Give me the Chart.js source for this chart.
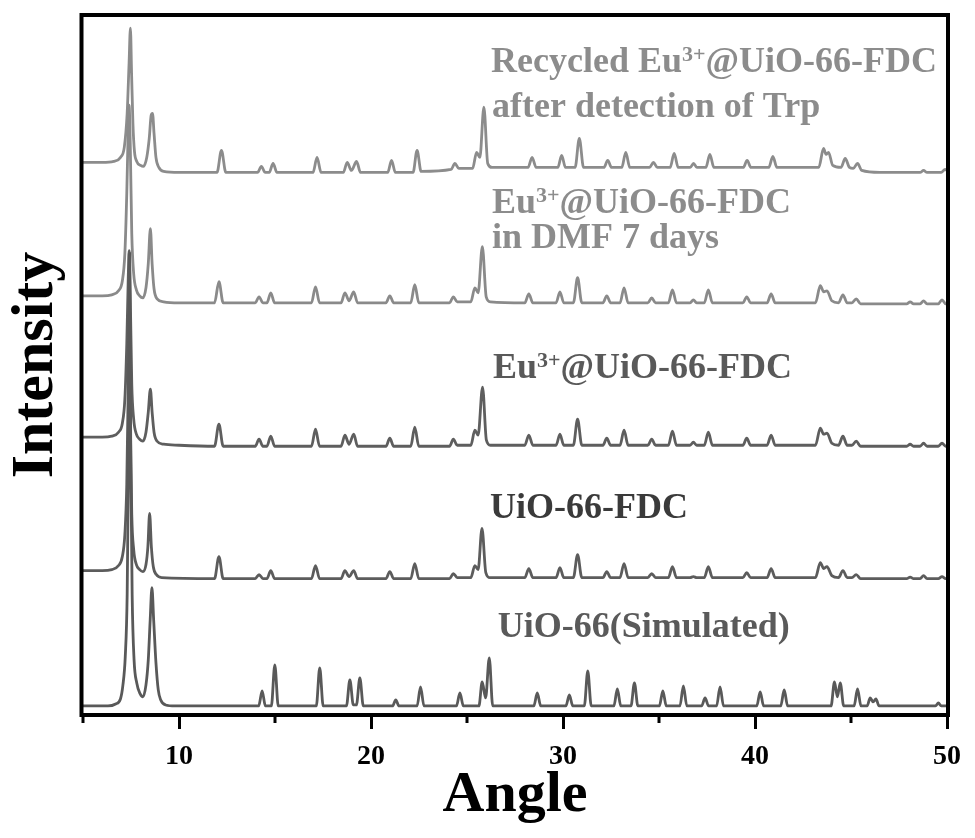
<!DOCTYPE html>
<html>
<head>
<meta charset="utf-8">
<script src="https://cdn.jsdelivr.net/npm/chart.js@4.4.1/dist/chart.umd.min.js"></script>
<style>
    html, body { margin: 0; padding: 0; background: #fff; }
    canvas { display: block; }
</style>
</head>
<body>
<canvas id="xrd-chart" width="975" height="838"></canvas>
<script>
// Trục X (góc 2θ)
const xMin = 5;
const xMax = 50;
const xTickValues = [10, 20, 30, 40, 50];
const xMinorTicks = [5, 15, 25, 35, 45];

// UiO-66 (Simulated)
const simAngle = [5, 6.3, 6.7, 6.95, 7.08, 7.2, 7.3, 7.37, 7.43, 7.49, 7.56, 7.66, 7.8, 7.98, 8.12, 8.28, 8.4, 8.5, 8.59, 8.68, 8.8, 8.92, 9.05, 9.3, 9.8,
    14.15, 14.33, 14.5, 14.81, 14.99, 15.17, 17.15, 17.33, 17.51, 18.72, 18.9, 19.08, 19.24, 19.42, 19.6,
    21.12, 21.29, 21.46, 22.4, 22.58, 22.76, 24.45, 24.63, 24.81, 25.62, 25.79, 25.97, 26.16, 26.34,
    28.48, 28.66, 28.84, 30.15, 30.33, 30.51, 31.11, 31.29, 31.47, 32.65, 32.83, 33.01, 33.54, 33.72, 33.9,
    35.02, 35.2, 35.38, 36.09, 36.27, 36.45, 37.22, 37.4, 37.58, 38.0, 38.18, 38.36, 40.09, 40.27, 40.45,
    41.34, 41.52, 41.7, 43.96, 44.14, 44.29, 44.44, 44.62, 45.16, 45.34, 45.52, 45.84, 46.0, 46.15, 46.3, 46.46,
    49.4, 49.55, 49.7, 50];
const simInt = [9, 9, 11, 16, 30, 58, 120, 250, 460, 250, 120, 55, 32, 21, 18, 30, 55, 95, 127, 95, 52, 25, 15, 10, 9,
    9, 24, 9, 9, 50, 9, 9, 47, 9, 9, 35, 10, 10, 37, 9,
    9, 15, 9, 9, 28, 9, 9, 22, 9, 9, 33, 17, 57, 9,
    9, 22, 9, 9, 20, 9, 9, 44, 9, 9, 26, 9, 9, 32, 9,
    9, 24, 9, 9, 29, 9, 9, 17, 9, 9, 28, 9, 9, 23, 9,
    9, 25, 9, 9, 33, 18, 32, 9, 9, 26, 9, 9, 17, 13, 16, 9,
    9, 12, 9, 9];

// UiO-66-FDC
const fdcAngle = [5, 6.0, 6.5, 6.85, 7.05, 7.18, 7.28, 7.35, 7.4, 7.46, 7.54, 7.64, 7.78, 7.95, 8.12, 8.28, 8.38, 8.47, 8.56, 8.66, 8.82, 9.1,
    11.85, 12.08, 12.3, 13.97, 14.17, 14.37, 14.58, 14.78, 14.98, 16.9, 17.11, 17.32, 18.44, 18.64, 18.86, 19.1, 19.3,
    20.78, 20.98, 21.18, 22.07, 22.28, 22.49, 24.09, 24.29, 24.49, 25.2, 25.41, 25.58, 25.78, 25.98, 26.2,
    28.01, 28.22, 28.43, 29.64, 29.84, 30.04, 30.54, 30.76, 30.98, 32.08, 32.28, 32.48, 32.97, 33.18, 33.39,
    34.42, 34.62, 34.82, 35.49, 35.7, 35.91, 36.62, 36.79, 36.96, 37.36, 37.57, 37.78, 39.37, 39.57, 39.77,
    40.63, 40.84, 41.05, 43.15, 43.4, 43.58, 43.75, 44.0, 44.35, 44.58, 44.8, 45.05, 45.27, 45.5,
    47.9, 48.08, 48.26, 48.6, 48.78, 48.96, 49.55, 49.74, 49.93, 50];
const fdcInt = [144, 144, 145, 149, 158, 180, 230, 320, 400, 300, 200, 165, 150, 145, 143, 150, 168, 201, 168, 148, 140, 137,
    136, 158, 136, 136, 140, 136, 136, 144, 136, 136, 149, 136, 136, 144, 138, 144, 136,
    136, 143, 136, 136, 151, 136, 136, 141, 137, 137, 149, 145, 186, 142, 137,
    137, 146, 137, 137, 147, 137, 137, 160, 137, 137, 143, 137, 137, 151, 137,
    137, 141, 137, 137, 148, 137, 137, 138, 137, 137, 148, 137, 137, 142, 137,
    137, 146, 137, 137, 152, 146, 148, 139, 137, 144, 137, 137, 140, 136,
    136, 137.5, 136, 136, 139, 136, 136, 138, 136, 136];

// Eu3+@UiO-66-FDC
const euAngle = [5, 6.0, 6.5, 6.85, 7.05, 7.18, 7.28, 7.35, 7.4, 7.46, 7.54, 7.64, 7.78, 7.95, 8.12, 8.28, 8.4, 8.51, 8.6, 8.7, 8.86, 9.2, 10.0,
    11.85, 12.08, 12.3, 13.97, 14.17, 14.37, 14.58, 14.78, 14.98, 16.9, 17.11, 17.32, 18.44, 18.64, 18.86, 19.1, 19.3,
    20.78, 20.98, 21.18, 22.07, 22.28, 22.49, 24.09, 24.29, 24.49, 25.2, 25.41, 25.58, 25.81, 26.01, 26.22,
    28.01, 28.22, 28.43, 29.64, 29.84, 30.04, 30.54, 30.76, 30.98, 32.08, 32.28, 32.48, 32.97, 33.18, 33.39,
    34.42, 34.62, 34.82, 35.49, 35.7, 35.91, 36.62, 36.79, 36.96, 37.36, 37.57, 37.78, 39.37, 39.57, 39.77,
    40.63, 40.84, 41.05, 43.15, 43.4, 43.58, 43.75, 44.0, 44.35, 44.58, 44.8, 45.05, 45.27, 45.5,
    47.9, 48.08, 48.26, 48.6, 48.78, 48.96, 49.55, 49.74, 49.93, 50];
const euInt = [277, 277, 278, 282, 291, 315, 370, 430, 463, 420, 330, 295, 280, 275, 273, 282, 302, 325, 302, 282, 273, 270, 269,
    268, 290, 268, 268, 275, 268, 268, 278, 268, 268, 285, 268, 268, 279, 270, 280, 268,
    268, 276, 268, 268, 287, 268, 268, 275, 269, 269, 284, 279, 327, 274, 269,
    269, 279, 269, 269, 280, 269, 269, 295, 269, 269, 276, 269, 269, 284, 269,
    269, 275, 269, 269, 283, 269, 269, 272, 269, 269, 282, 269, 269, 276, 269,
    269, 279, 269, 269, 286, 280, 281, 271, 269, 278, 269, 269, 273, 268,
    268, 270, 268, 268, 271, 268, 268, 271, 268, 268];

// Eu3+@UiO-66-FDC in DMF 7 days
const dmfAngle = [5, 6.0, 6.5, 6.85, 7.05, 7.18, 7.28, 7.35, 7.4, 7.46, 7.54, 7.64, 7.78, 7.95, 8.12, 8.28, 8.4, 8.51, 8.6, 8.7, 8.86, 9.2, 10.0,
    11.85, 12.08, 12.3, 13.97, 14.17, 14.37, 14.58, 14.78, 14.98, 16.9, 17.11, 17.32, 18.44, 18.64, 18.86, 19.1, 19.3,
    20.78, 20.98, 21.18, 22.07, 22.28, 22.49, 24.09, 24.29, 24.49, 25.2, 25.41, 25.58, 25.8, 26.0, 26.22,
    28.01, 28.22, 28.43, 29.64, 29.84, 30.04, 30.54, 30.76, 30.98, 32.08, 32.28, 32.48, 32.97, 33.18, 33.39,
    34.42, 34.62, 34.82, 35.49, 35.7, 35.91, 36.62, 36.79, 36.96, 37.36, 37.57, 37.78, 39.37, 39.57, 39.77,
    40.63, 40.84, 41.05, 43.15, 43.4, 43.58, 43.75, 44.0, 44.35, 44.58, 44.8, 45.05, 45.27, 45.5,
    47.9, 48.08, 48.26, 48.6, 48.78, 48.96, 49.55, 49.74, 49.93, 50];
const dmfInt = [418, 418, 419, 423, 433, 460, 520, 580, 608, 570, 480, 440, 424, 418, 416, 426, 450, 485, 450, 425, 415, 412, 411,
    411, 432, 411, 411, 417, 411, 411, 421, 411, 411, 427, 411, 411, 421, 413, 422, 411,
    411, 418, 411, 411, 429, 411, 411, 417, 412, 412, 426, 421, 467, 417, 412,
    411, 420, 411, 411, 422, 411, 411, 436, 411, 411, 418, 411, 411, 426, 411,
    411, 416, 411, 411, 424, 411, 411, 414, 411, 411, 424, 411, 411, 417, 411,
    411, 420, 411, 411, 428, 422, 423, 413, 411, 419, 411, 411, 415, 410,
    410, 412, 410, 410, 413, 410, 410, 414, 410, 410];

// Recycled Eu3+@UiO-66-FDC after detection of Trp
const recAngle = [5, 6.0, 6.6, 6.95, 7.15, 7.3, 7.4, 7.47, 7.53, 7.6, 7.68, 7.8, 8.0, 8.15, 8.32, 8.45, 8.55, 8.62, 8.7, 8.8, 8.95, 9.2, 10.0,
    11.98, 12.21, 12.44, 14.09, 14.29, 14.49, 14.7, 14.9, 15.1, 16.98, 17.19, 17.4, 18.56, 18.76, 18.98, 19.25, 19.45,
    20.87, 21.07, 21.27, 22.19, 22.4, 22.61, 24.17, 24.37, 24.57, 25.29, 25.5, 25.67, 25.88, 26.08, 26.3,
    28.18, 28.39, 28.6, 29.73, 29.93, 30.13, 30.63, 30.85, 31.07, 32.13, 32.33, 32.53, 33.06, 33.27, 33.48,
    34.51, 34.71, 34.91, 35.58, 35.79, 36.0, 36.63, 36.8, 36.97, 37.44, 37.65, 37.86, 39.39, 39.59, 39.79,
    40.72, 40.93, 41.14, 43.32, 43.57, 43.7, 43.83, 44.05, 44.48, 44.7, 44.92, 45.12, 45.34, 45.56,
    46.5, 48.6, 48.78, 48.96, 49.7, 49.9, 50];
const recInt = [551, 551, 552, 556, 566, 600, 650, 685, 640, 590, 562, 552, 548, 547, 556, 575, 598, 600, 580, 556, 546, 542, 541,
    541, 563, 541, 541, 547, 541, 541, 550, 541, 541, 556, 541, 541, 551, 543, 552, 541,
    541, 553, 541, 541, 563, 542, 544, 550, 545, 545, 561, 556, 606, 550, 546,
    546, 556, 546, 546, 558, 546, 546, 575, 546, 546, 553, 546, 546, 561, 546,
    546, 551, 546, 546, 560, 546, 546, 550, 546, 546, 559, 546, 546, 553, 546,
    546, 557, 546, 546, 565, 559, 561, 548, 546, 555, 546, 545, 550, 543,
    541, 541, 543, 541, 541, 544, 543];

// Nhãn của từng đường
const labelTexts = ['Recycled Eu^{3+}@UiO-66-FDC', 'after detection of Trp', 'Eu^{3+}@UiO-66-FDC', 'in DMF 7 days',
    'Eu^{3+}@UiO-66-FDC', 'UiO-66-FDC', 'UiO-66(Simulated)'];
const labelAngle = [26.25, 26.3, 26.3, 26.3, 26.35, 26.2, 26.6];
const labelInt = [641, 596, 501, 466, 336, 196, 78];
const labelColors = ['#8c8c8c', '#8c8c8c', '#8c8c8c', '#8c8c8c', '#595959', '#3a3a3a', '#5a5a5a'];

const SERIF = '"Liberation Serif", "Times New Roman", serif';

function toPoints(xs, ys) {
    return xs.map((x, i) => ({ x: x, y: ys[i] }));
}

function drawRichText(ctx, text, x, y, size) {
    // "^{...}" là chỉ số trên
    const parts = text.split(/\^\{|\}/);
    let cx = x;
    parts.forEach((p, i) => {
        const sup = i % 2 === 1;
        const fs = sup ? Math.round(size * 0.62) : size;
        ctx.font = `bold ${fs}px ${SERIF}`;
        ctx.fillText(p, cx, sup ? y - size * 0.3 : y);
        cx += ctx.measureText(p).width;
    });
}

const framePlugin = {
    id: 'frameAndLabels',
    afterDraw(chart) {
        const { ctx, chartArea, scales } = chart;
        const xs = scales.x;
        const ys = scales.y;
        ctx.save();
        // Khung
        ctx.strokeStyle = '#000';
        ctx.lineWidth = 4;
        ctx.strokeRect(chartArea.left - 1.5, chartArea.top, chartArea.right - chartArea.left + 2.5, chartArea.bottom - chartArea.top);
        // Vạch chia phụ
        ctx.lineWidth = 3;
        xMinorTicks.forEach(v => {
            const px = xs.getPixelForValue(v);
            ctx.beginPath();
            ctx.moveTo(px, chartArea.bottom);
            ctx.lineTo(px, chartArea.bottom + 8);
            ctx.stroke();
        });
        // Nhãn
        ctx.textBaseline = 'alphabetic';
        ctx.textAlign = 'left';
        labelTexts.forEach((t, i) => {
            ctx.fillStyle = labelColors[i];
            drawRichText(ctx, t, xs.getPixelForValue(labelAngle[i]), ys.getPixelForValue(labelInt[i]), 36);
        });
        ctx.restore();
    }
};

const ctx = document.getElementById('xrd-chart').getContext('2d');
new Chart(ctx, {
    type: 'line',
    data: {
        datasets: [
            { label: 'UiO-66(Simulated)', data: toPoints(simAngle, simInt), borderColor: '#595959' },
            { label: 'UiO-66-FDC', data: toPoints(fdcAngle, fdcInt), borderColor: '#5c5c5c' },
            { label: 'Eu3+@UiO-66-FDC', data: toPoints(euAngle, euInt), borderColor: '#5e5e5e' },
            { label: 'in DMF 7 days', data: toPoints(dmfAngle, dmfInt), borderColor: '#8a8a8a' },
            { label: 'Recycled', data: toPoints(recAngle, recInt), borderColor: '#8c8c8c' }
        ]
    },
    options: {
        responsive: false,
        animation: false,
        devicePixelRatio: 1,
        layout: { padding: { left: 0, right: 28, top: 15, bottom: 0 } },
        elements: {
            point: { radius: 0 },
            line: { borderWidth: 2.8, cubicInterpolationMode: 'monotone', fill: false }
        },
        plugins: {
            legend: { display: false },
            tooltip: { enabled: false }
        },
        scales: {
            x: {
                type: 'linear',
                min: xMin,
                max: xMax,
                afterBuildTicks: scale => {
                    scale.ticks = xTickValues.map(v => ({ value: v }));
                },
                border: { display: false },
                grid: { display: true, drawOnChartArea: false, drawTicks: true, tickLength: 14, tickWidth: 3, tickColor: '#000' },
                ticks: {
                    color: '#000',
                    padding: 14,
                    maxRotation: 0,
                    font: { family: SERIF, size: 28, weight: 'bold', lineHeight: 1 }
                },
                title: {
                    display: true,
                    text: 'Angle',
                    color: '#000',
                    padding: { top: -18, bottom: 13 },
                    font: { family: SERIF, size: 58, weight: 'bold', lineHeight: 1 }
                }
            },
            y: {
                type: 'linear',
                min: 0,
                max: 698,
                border: { display: false },
                grid: { display: false, drawTicks: false },
                ticks: { display: false },
                title: {
                    display: true,
                    text: 'Intensity',
                    color: '#000',
                    padding: { top: 6, bottom: 17 },
                    font: { family: SERIF, size: 60, weight: 'bold', lineHeight: 1 }
                }
            }
        }
    },
    plugins: [framePlugin]
});
</script>
</body>
</html>
